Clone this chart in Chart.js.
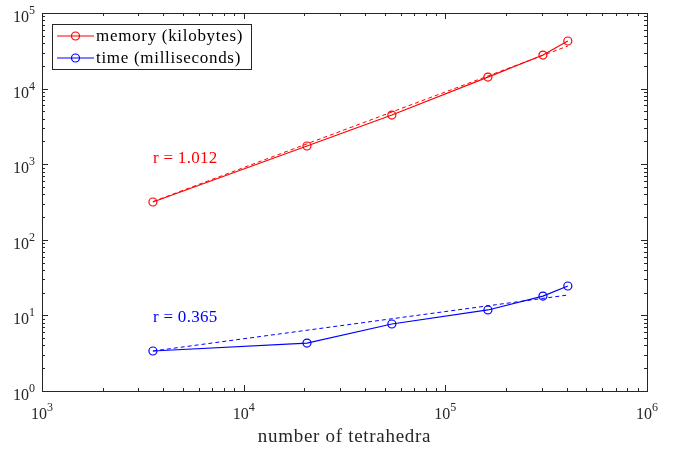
<!DOCTYPE html>
<html>
<head>
<meta charset="utf-8">
<title>memory and time vs tetrahedra</title>
<script src="https://cdn.jsdelivr.net/npm/chart.js@4.4.1/dist/chart.umd.min.js"></script>
<style>
  body { margin: 0; background: #fff; }
  #wrap { width: 678px; height: 449px; }
</style>
</head>
<body>
<div id="wrap"><canvas id="plot"></canvas></div>

<script>
  // values
  var nTets = [3548, 20600, 54300, 162600, 304800, 405000];
  var memoryKB = [316, 1740, 4470, 14200, 27800, 42600];
  var timeMs = [3.38, 4.31, 7.69, 11.8, 18.0, 24.5];
  // fitted power-law lines (end points)
  var fitX = [3548, 405000];
  var memoryFit = [320, 36600];
  var timeFit = [3.38, 18.6];
  var seriesNames = ['memory (kilobytes)', 'time (milliseconds)'];
  var slopeLabels = ['r = 1.012', 'r = 0.365'];
  var slopeAt = [[3548, 1200], [3548, 9.5]];
  var xExp = [3, 4, 5, 6];
  var yExp = [0, 1, 2, 3, 4, 5];
  var xTitle = 'number of tetrahedra';

  var RED = '#ff0000', BLUE = '#0000ff', AX = '#262626';
  var SERIF = '"Liberation Serif", "Times New Roman", serif';

  function pts(xs, ys) { return xs.map(function (v, i) { return {x: v, y: ys[i]}; }); }

  function drawPow(ctx, e, px, py, mode) {
    // draws 10^e ; mode 'x' = centred under px, 'y' = right aligned at px
    ctx.font = '16px ' + SERIF;
    var wb = ctx.measureText('10').width;
    ctx.font = '12px ' + SERIF;
    var we = ctx.measureText(String(e)).width;
    var left = mode == 'x' ? px - (wb + we) / 2 : px - wb - we;
    ctx.textAlign = 'left';
    ctx.textBaseline = 'alphabetic';
    ctx.font = '16px ' + SERIF;
    ctx.fillText('10', left, py);
    ctx.font = '12px ' + SERIF;
    ctx.fillText(String(e), left + wb, py - 8);
  }

  var matlabAxes = {
    id: 'matlabAxes',
    afterDraw: function (chart) {
      var ctx = chart.ctx, a = chart.chartArea;
      var xs = chart.scales.x, ys = chart.scales.y;
      ctx.save();
      ctx.strokeStyle = AX;
      ctx.fillStyle = AX;
      ctx.lineWidth = 1;
      ctx.strokeRect(Math.round(a.left) + 0.5, Math.round(a.top) + 0.5,
                     Math.round(a.right - a.left), Math.round(a.bottom - a.top));

      // inward ticks, major and minor, on all four sides
      ctx.beginPath();
      xExp.forEach(function (e, i) {
        for (var m = 1; m <= 9; m++) {
          if (i == xExp.length - 1 && m > 1) break;
          var px = Math.round(xs.getPixelForValue(m * Math.pow(10, e))) + 0.5;
          var len = m == 1 ? 6 : 3;
          ctx.moveTo(px, a.bottom); ctx.lineTo(px, a.bottom - len);
          ctx.moveTo(px, a.top); ctx.lineTo(px, a.top + len);
        }
      });
      yExp.forEach(function (e, i) {
        for (var m = 1; m <= 9; m++) {
          if (i == yExp.length - 1 && m > 1) break;
          var py = Math.round(ys.getPixelForValue(m * Math.pow(10, e))) + 0.5;
          var len = m == 1 ? 6 : 3;
          ctx.moveTo(a.left, py); ctx.lineTo(a.left + len, py);
          ctx.moveTo(a.right, py); ctx.lineTo(a.right - len, py);
        }
      });
      ctx.stroke();

      ctx.fillStyle = '#262626';
      xExp.forEach(function (e) {
        drawPow(ctx, e, xs.getPixelForValue(Math.pow(10, e)), a.bottom + 28, 'x');
      });
      yExp.forEach(function (e) {
        drawPow(ctx, e, a.left - 7, ys.getPixelForValue(Math.pow(10, e)) + 9, 'y');
      });

      // axis title
      ctx.letterSpacing = '0.7px';
      ctx.font = '19px ' + SERIF;
      ctx.textAlign = 'center';
      ctx.fillText(xTitle, (a.left + a.right) / 2, a.bottom + 51);

      // slope annotations
      ctx.font = '17px ' + SERIF;
      ctx.letterSpacing = '0.3px';
      ctx.textAlign = 'left';
      ctx.textBaseline = 'middle';
      [RED, BLUE].forEach(function (c, i) {
        ctx.fillStyle = c;
        ctx.fillText(slopeLabels[i], xs.getPixelForValue(slopeAt[i][0]), ys.getPixelForValue(slopeAt[i][1]));
      });

      // legend box
      var bx = 52.5, by = 24.5, bw = 199, bh = 45;
      ctx.fillStyle = '#fff';
      ctx.fillRect(bx, by, bw, bh);
      ctx.strokeStyle = AX;
      ctx.lineWidth = 1;
      ctx.strokeRect(bx, by, bw, bh);
      ctx.letterSpacing = '0.7px';
      [RED, BLUE].forEach(function (c, i) {
        var ry = 36 + i * 22;
        ctx.strokeStyle = c;
        ctx.lineWidth = 1.2;
        ctx.beginPath();
        ctx.moveTo(57, ry); ctx.lineTo(94, ry);
        ctx.stroke();
        ctx.beginPath();
        ctx.arc(75.5, ry, 4, 0, Math.PI * 2);
        ctx.stroke();
        ctx.fillStyle = '#000';
        ctx.font = '17px ' + SERIF;
        ctx.textBaseline = 'middle';
        ctx.fillText(seriesNames[i], 96, ry + 1);
      });
      ctx.restore();
    }
  };

  var ctx = document.getElementById('plot').getContext('2d');
  var chart = new Chart(ctx, {
    type: 'scatter',
    data: {
      datasets: [{
        label: seriesNames[0],
        data: pts(nTets, memoryKB),
        showLine: true,
        borderColor: RED,
        borderWidth: 1.2,
        pointRadius: 4,
        pointBorderWidth: 1.2,
        pointBackgroundColor: 'rgba(0,0,0,0)',
        pointBorderColor: RED
      }, {
        label: seriesNames[1],
        data: pts(nTets, timeMs),
        showLine: true,
        borderColor: BLUE,
        borderWidth: 1.2,
        pointRadius: 4,
        pointBorderWidth: 1.2,
        pointBackgroundColor: 'rgba(0,0,0,0)',
        pointBorderColor: BLUE
      }, {
        label: 'memory fit',
        data: pts(fitX, memoryFit),
        showLine: true,
        borderColor: RED,
        borderWidth: 1,
        borderDash: [4, 3],
        pointRadius: 0
      }, {
        label: 'time fit',
        data: pts(fitX, timeFit),
        showLine: true,
        borderColor: BLUE,
        borderWidth: 1,
        borderDash: [4, 3],
        pointRadius: 0
      }]
    },
    options: {
      animation: false,
      responsive: true,
      maintainAspectRatio: false,
      layout: { padding: { left: 42, right: 31, top: 13, bottom: 58 } },
      plugins: { legend: { display: false }, tooltip: { enabled: false } },
      scales: {
        x: { type: 'logarithmic', min: 1e3, max: 1e6, display: false },
        y: { type: 'logarithmic', min: 1e0, max: 1e5, display: false }
      }
    },
    plugins: [matlabAxes]
  });
</script>
</body>
</html>
